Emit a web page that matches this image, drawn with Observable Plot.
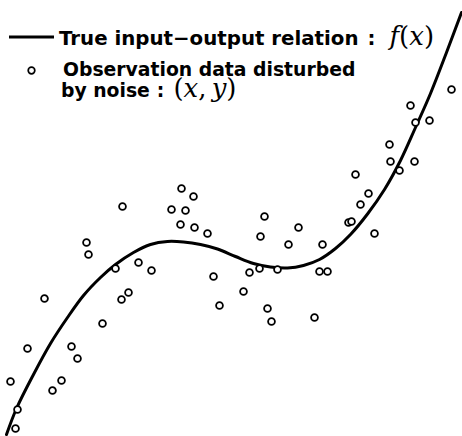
<!DOCTYPE html>
<html>
<head>
<meta charset="utf-8">
<script src="https://cdn.jsdelivr.net/npm/d3@7"></script>
<script src="https://cdn.jsdelivr.net/npm/@observablehq/plot@0.6"></script>
<style>
  html, body { margin: 0; padding: 0; background: #fff; }
  #chart svg { display: block; }
</style>
</head>
<body>
<div id="chart"></div>
<script>
// Noisy observations (x, y)
const obsX = [1.0, 1.7, 1.5, 2.7, 4.4, 5.2, 6.1, 7.1, 7.7, 8.6, 8.8, 10.2, 11.5, 12.1, 12.8, 12.2, 13.8, 15.1,
  17.1, 18.1, 19.3, 18.5, 18.0, 19.4, 20.7, 21.3, 21.9, 24.3, 24.9, 25.9, 26.4, 26.0, 26.7, 27.1, 27.7, 28.8,
  29.8, 31.4, 31.9, 32.7, 32.2, 34.8, 35.1, 35.5, 36.8, 36.0, 37.4, 38.9, 39.0, 39.9, 41.4, 41.0, 41.5, 42.9, 45.1];
const obsY = [5.5, 2.7, 0.8, 8.8, 13.8, 4.6, 5.6, 9.0, 7.8, 19.4, 18.2, 11.3, 16.8, 13.7, 14.4, 23.0, 17.4, 16.6,
  22.7, 24.8, 24.0, 22.6, 21.2, 20.9, 20.3, 16.0, 13.1, 14.5, 16.4, 16.8, 22.0, 20.0, 12.8, 11.5, 16.7, 19.2,
  20.9, 11.9, 16.5, 16.5, 19.2, 21.4, 21.5, 26.2, 24.3, 23.2, 20.3, 29.2, 27.5, 26.6, 27.5, 33.1, 31.4, 31.6, 34.7];

// True input-output relation f(x), sampled along the curve
const curveX = [0.6, 1.6, 3.3, 5.0, 6.7, 8.3, 10.0, 11.5, 13.3, 15.0, 16.7, 18.3, 20.0, 21.7, 23.5, 25.3, 27.0,
  28.7, 30.3, 31.9, 33.5, 35.0, 36.7, 38.4, 40.0, 41.5, 43.0, 44.6, 46.1];
const curveY = [0.2, 2.8, 6.2, 9.3, 11.9, 14.1, 15.9, 17.2, 18.4, 19.2, 19.5, 19.45, 19.2, 18.75, 18.0, 17.3, 16.95,
  16.85, 17.1, 17.7, 18.8, 20.2, 22.25, 24.7, 27.6, 30.9, 34.3, 38.4, 42.4];

// Legend texts; math parts are split into [glyphs, italic?] pieces
const legendLine1 = "True input\u2212output relation";
const legendMath1 = [["f", true], ["(", false], ["x", true], [")", false]];
const legendLine2 = "Observation data disturbed";
const legendLine3 = "by noise";
const legendMath3 = [["(", false], ["x", true], [",", false], ["\u2009y", true], [")", false]];

const observations = obsX.map((x, i) => ({x, y: obsY[i]}));
const curve = curveX.map((x, i) => ({x, y: curveY[i]}));

const sansFont = "'DejaVu Sans', sans-serif";
const mathFont = "'DejaVu Serif', serif";

function addColon(text, dx) {
  text.append("tspan").attr("dx", dx).text(":");
}

function addMath(text, pieces, gap) {
  pieces.forEach(([s, italic], i) => {
    text.append("tspan")
      .attr("dx", i === 0 ? gap : null)
      .attr("font-family", mathFont)
      .attr("font-weight", "normal")
      .attr("font-style", italic ? "italic" : "normal")
      .attr("font-size", 26)
      .text(s);
  });
}

// Legend drawn inside the frame, top-left
function legend() {
  const g = d3.create("svg:g")
    .attr("font-family", sansFont)
    .attr("font-weight", "bold")
    .attr("font-size", 18.8)
    .attr("text-anchor", "start")
    .attr("fill", "#000");
  g.append("line")
    .attr("x1", 9).attr("x2", 54).attr("y1", 37).attr("y2", 37)
    .attr("stroke", "#000").attr("stroke-width", 3);
  g.append("circle")
    .attr("cx", 31.5).attr("cy", 70.5).attr("r", 3.3)
    .attr("fill", "#fff").attr("stroke", "#000").attr("stroke-width", 1.7);
  const t1 = g.append("text").attr("x", 59).attr("y", 45)
    .attr("font-size", 19.8).text(legendLine1);
  addColon(t1, 9);
  addMath(t1, legendMath1, 14);
  g.append("text").attr("x", 63).attr("y", 76).text(legendLine2);
  const t3 = g.append("text").attr("x", 61).attr("y", 97).text(legendLine3);
  addColon(t3, 7);
  addMath(t3, legendMath3, 9);
  return g.node();
}

const chart = Plot.plot({
  width: 462,
  height: 436,
  margin: 0,
  x: {domain: [0, 46.2], axis: null},
  y: {domain: [0, 43.6], axis: null},
  style: {background: "#fff"},
  marks: [
    Plot.line(curve, {x: "x", y: "y", curve: "catmull-rom", stroke: "#000", strokeWidth: 3}),
    Plot.dot(observations, {x: "x", y: "y", r: 3.4, fill: "#fff", stroke: "#000", strokeWidth: 1.8}),
    legend
  ]
});

document.getElementById("chart").appendChild(chart);
</script>
</body>
</html>
